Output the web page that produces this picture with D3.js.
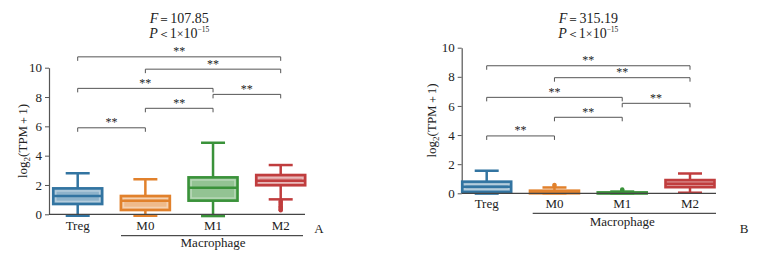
<!DOCTYPE html>
<html><head><meta charset="utf-8">
<script src="https://cdn.jsdelivr.net/npm/d3@7"></script>
<style>
html,body{margin:0;padding:0;background:#fff;}
svg{display:block;}
svg text{font-family:"Liberation Serif","Times New Roman",serif !important;fill:#222;}
</style></head>
<body>
<svg id="chart" width="773" height="261" font-family="Liberation Serif, Times New Roman, serif"></svg>
<script>
// ---- data ----
const groups = ["Treg", "M0", "M1", "M2"];
const yTicks = [0, 2, 4, 6, 8, 10];
const groupColors = ["#3274a1", "#e1812c", "#3a923a", "#c03d3e"];

// Panel A
const aTitleF = "107.85";
const aWhiskerLow  = [-0.1, -0.1, -0.12, 1.02];
const aQ1          = [0.70, 0.29, 0.93, 1.98];
const aMedian      = [1.24, 0.93, 1.81, 2.29];
const aQ3          = [1.77, 1.25, 2.52, 2.68];
const aWhiskerHigh = [2.80, 2.39, 4.88, 3.36];
const aOutliers    = [[], [], [], [0.92, 0.85, 0.78, 0.70, 0.63, 0.55, 0.48, 0.40, 0.33, 0.27]];

// Panel B
const bTitleF = "315.19";
const bWhiskerLow  = [-0.02, 0.0, 0.0, 0.04];
const bQ1          = [0.09, 0.0, 0.0, 0.42];
const bMedian      = [0.45, 0.07, 0.02, 0.66];
const bQ3          = [0.80, 0.18, 0.06, 0.91];
const bWhiskerHigh = [1.55, 0.40, 0.12, 1.36];
const bOutliers    = [[], [0.50, 0.58], [0.20, 0.27], []];

// Significance comparisons
const comparisons = [["Treg","M0"],["M0","M1"],["M1","M2"],["Treg","M1"],["M0","M2"],["Treg","M2"]];
const sigLabels   = ["**","**","**","**","**","**"];
const aBracketLevels = [5.90, 7.23, 8.18, 8.59, 9.90, 10.74];
const bBracketLevels = [3.94, 5.22, 6.18, 6.59, 7.94, 8.76];

const svg = d3.select("#chart");
const SERIF = "'Liberation Serif','Times New Roman',serif";
const CJK = "'Noto Sans CJK SC','Liberation Serif',serif";

function drawPanel(o) {
  const g = svg.append("g");
  const x = d3.scalePoint().domain(groups).range(o.xPoints);
  const y = d3.scaleLinear().domain([0, 10]).range(o.yRange);
  const color = d3.scaleOrdinal().domain(groups).range(groupColors);
  const boxW = 49, capW = 24;

  // y axis
  const ax = g.append("g").attr("transform", `translate(${o.axisX},0)`)
    .call(d3.axisLeft(y).tickValues(yTicks).tickSize(4).tickSizeOuter(0).tickPadding(3));
  ax.attr("font-family", null);
  ax.select(".domain").attr("stroke", "#555").attr("stroke-width", 1.2);
  ax.selectAll(".tick line").attr("stroke", "#555");
  ax.selectAll(".tick text").style("font-size", "13px").attr("fill", "#222")
    .style("font-family", SERIF);

  const rows = groups.map((k, i) => ({
    k, lo: o.wl[i], q1: o.q1[i], med: o.med[i], q3: o.q3[i], hi: o.wh[i], out: o.out[i]
  }));

  const bx = g.selectAll(".box").data(rows).enter().append("g");
  // whiskers
  bx.append("line").attr("x1", d => x(d.k)).attr("x2", d => x(d.k))
    .attr("y1", d => y(d.q3)).attr("y2", d => y(d.hi))
    .attr("stroke", d => color(d.k)).attr("stroke-width", 2.5);
  bx.append("line").attr("x1", d => x(d.k)).attr("x2", d => x(d.k))
    .attr("y1", d => y(d.q1)).attr("y2", d => y(d.lo))
    .attr("stroke", d => color(d.k)).attr("stroke-width", 2.5);
  bx.append("line").attr("x1", d => x(d.k) - capW/2).attr("x2", d => x(d.k) + capW/2)
    .attr("y1", d => y(d.hi)).attr("y2", d => y(d.hi))
    .attr("stroke", d => color(d.k)).attr("stroke-width", 2.5);
  bx.append("line").attr("x1", d => x(d.k) - capW/2).attr("x2", d => x(d.k) + capW/2)
    .attr("y1", d => y(d.lo)).attr("y2", d => y(d.lo))
    .attr("stroke", d => color(d.k)).attr("stroke-width", 2.5);
  // box
  bx.append("rect").attr("x", d => x(d.k) - boxW/2).attr("width", boxW)
    .attr("y", d => y(d.q3)).attr("height", d => Math.max(1, y(d.q1) - y(d.q3)))
    .attr("fill", "#fff");
  bx.append("rect").attr("x", d => x(d.k) - boxW/2).attr("width", boxW)
    .attr("y", d => y(d.q3)).attr("height", d => Math.max(1, y(d.q1) - y(d.q3)))
    .attr("fill", d => color(d.k)).attr("fill-opacity", 0.55)
    .attr("stroke", d => color(d.k)).attr("stroke-width", 2.6);
  bx.filter(d => y(d.q1) - y(d.q3) > 8).append("rect")
    .attr("x", d => x(d.k) - boxW/2 + 2.6).attr("width", boxW - 5.2)
    .attr("y", d => y(d.q3) + 2.6).attr("height", d => y(d.q1) - y(d.q3) - 5.2)
    .attr("fill", "none").attr("stroke", "#fff").attr("stroke-opacity", 0.35).attr("stroke-width", 1.5);
  // median
  bx.append("line").attr("x1", d => x(d.k) - boxW/2).attr("x2", d => x(d.k) + boxW/2)
    .attr("y1", d => y(d.med)).attr("y2", d => y(d.med))
    .attr("stroke", d => color(d.k)).attr("stroke-width", 2.5);
  // outliers
  bx.each(function(d) {
    d3.select(this).selectAll("circle").data(d.out).enter().append("circle")
      .attr("cx", x(d.k)).attr("cy", v => y(v)).attr("r", 2.2)
      .attr("fill", color(d.k));
  });

  // x axis line
  g.append("line").attr("x1", o.axisX).attr("x2", o.axisEnd)
    .attr("y1", y(0)).attr("y2", y(0)).attr("stroke", "#444").attr("stroke-width", 1.2);

  // group labels
  g.selectAll(".glab").data(groups).enter().append("text")
    .attr("x", d => x(d)).attr("y", o.labelY).attr("text-anchor", "middle")
    .style("font-size", "13px").style("font-family", SERIF).text(d => d);

  // Macrophage underline + label
  g.append("line").attr("x1", o.macroX[0]).attr("x2", o.macroX[1])
    .attr("y1", o.macroLineY).attr("y2", o.macroLineY).attr("stroke", "#222").attr("stroke-width", 1);
  g.append("text").attr("x", x("M1")).attr("y", o.macroTextY).attr("text-anchor", "middle")
    .style("font-size", "13px").style("font-family", SERIF).text("Macrophage");

  // panel letter
  g.append("text").attr("x", o.letterX).attr("y", o.letterY).attr("text-anchor", "middle")
    .style("font-size", "13px").style("font-family", SERIF).text(o.letter);

  // y label
  const yl = g.append("text").attr("transform", `translate(${o.yLabelX},${(y(0) + y(10)) / 2}) rotate(-90)`)
    .attr("text-anchor", "middle").style("font-size", "13px").style("font-family", SERIF);
  yl.append("tspan").text("log");
  yl.append("tspan").attr("dy", 3).style("font-size", "9px").text("2");
  yl.append("tspan").attr("dy", -3).text("(TPM");
  yl.append("tspan").style("font-size", "11px").text("＋");
  yl.append("tspan").text("1)");

  // title
  const cx = (x("Treg") + x("M2")) / 2;
  const t1 = g.append("text").attr("x", cx).attr("y", 23.3).attr("text-anchor", "middle")
    .style("font-size", "14px").style("font-family", SERIF);
  t1.append("tspan").style("font-style", "italic").text("F");
  t1.append("tspan").style("font-size", "12px").text("＝");
  t1.append("tspan").text(o.F);
  const t2 = g.append("text").attr("x", cx).attr("y", 38.3).attr("text-anchor", "middle")
    .style("font-size", "14px").style("font-family", SERIF);
  t2.append("tspan").style("font-style", "italic").text("P");
  t2.append("tspan").style("font-size", "12px").text("＜");
  t2.append("tspan").text("1");
  t2.append("tspan").style("font-size", "12px").text("×");
  t2.append("tspan").text("10");
  t2.append("tspan").attr("dy", -6).style("font-size", "7.5px").text("−15");

  // brackets
  comparisons.forEach((c, i) => {
    const x1 = x(c[0]), x2 = x(c[1]), yy = y(o.levels[i]);
    g.append("path").attr("d", `M${x1},${yy + 4}V${yy}H${x2}V${yy + 4}`)
      .attr("fill", "none").attr("stroke", "#555").attr("stroke-width", 1);
    g.append("text").attr("x", (x1 + x2) / 2).attr("y", yy - 1.5).attr("text-anchor", "middle")
      .style("font-size", "12px").style("font-family", SERIF).attr("fill", "#444").text(sigLabels[i]);
  });
}

drawPanel({
  xPoints: [77.7, 280.7], yRange: [214.3, 67.7], axisX: 49, axisEnd: 305,
  wl: aWhiskerLow, q1: aQ1, med: aMedian, q3: aQ3, wh: aWhiskerHigh, out: aOutliers,
  levels: aBracketLevels, F: aTitleF, labelY: 229.5,
  macroX: [121, 303], macroLineY: 235.7, macroTextY: 247.3,
  letter: "A", letterX: 319, letterY: 232.7, yLabelX: 27
});
drawPanel({
  xPoints: [486.7, 690], yRange: [193.3, 47.7], axisX: 461.7, axisEnd: 716,
  wl: bWhiskerLow, q1: bQ1, med: bMedian, q3: bQ3, wh: bWhiskerHigh, out: bOutliers,
  levels: bBracketLevels, F: bTitleF, labelY: 207.5,
  macroX: [532.7, 716], macroLineY: 213.3, macroTextY: 225.5,
  letter: "B", letterX: 744, letterY: 232.7, yLabelX: 436
});
</script>
</body></html>
